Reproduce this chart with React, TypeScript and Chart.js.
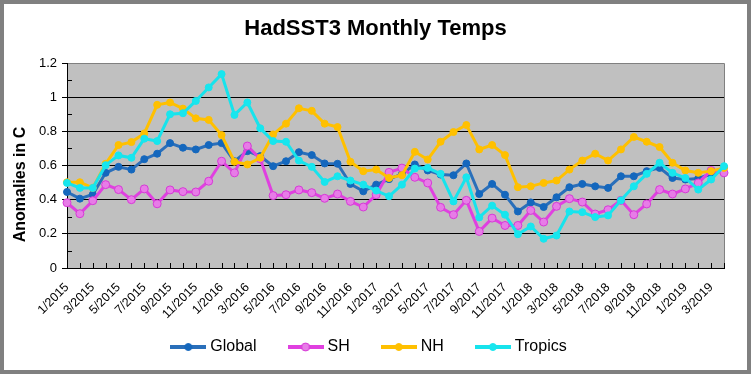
import React, { useEffect, useRef } from 'react';
import { Chart, registerables } from 'chart.js';

Chart.register(...registerables);

const FONT = "'Liberation Sans', Arial, sans-serif";

const months = [
  '1/2015', '2/2015', '3/2015', '4/2015', '5/2015', '6/2015', '7/2015', '8/2015', '9/2015', '10/2015', '11/2015', '12/2015',
  '1/2016', '2/2016', '3/2016', '4/2016', '5/2016', '6/2016', '7/2016', '8/2016', '9/2016', '10/2016', '11/2016', '12/2016',
  '1/2017', '2/2017', '3/2017', '4/2017', '5/2017', '6/2017', '7/2017', '8/2017', '9/2017', '10/2017', '11/2017', '12/2017',
  '1/2018', '2/2018', '3/2018', '4/2018', '5/2018', '6/2018', '7/2018', '8/2018', '9/2018', '10/2018', '11/2018', '12/2018',
  '1/2019', '2/2019', '3/2019', '4/2019',
];

const globalT = [
  0.445, 0.406, 0.43, 0.557, 0.592, 0.576, 0.637, 0.669, 0.731, 0.704, 0.694, 0.72,
  0.731, 0.625, 0.684, 0.655, 0.596, 0.625, 0.678, 0.661, 0.612, 0.61, 0.492, 0.449,
  0.488, 0.52, 0.55, 0.606, 0.571, 0.547, 0.543, 0.612, 0.433, 0.492, 0.429, 0.331,
  0.384, 0.357, 0.414, 0.473, 0.492, 0.478, 0.469, 0.537, 0.537, 0.567, 0.586, 0.527,
  0.518, 0.524, 0.55, 0.59,
];

const shT = [
  0.382, 0.318, 0.394, 0.488, 0.459, 0.4, 0.463, 0.376, 0.457, 0.447, 0.445, 0.508,
  0.625, 0.557, 0.714, 0.639, 0.424, 0.429, 0.457, 0.441, 0.408, 0.433, 0.39, 0.357,
  0.429, 0.56, 0.585, 0.531, 0.498, 0.355, 0.312, 0.396, 0.214, 0.292, 0.249, 0.249,
  0.337, 0.269, 0.361, 0.406, 0.386, 0.316, 0.341, 0.396, 0.312, 0.375, 0.459, 0.433,
  0.463, 0.498, 0.571, 0.557,
];

const nhT = [
  0.502, 0.502, 0.469, 0.61, 0.72, 0.737, 0.788, 0.955, 0.969, 0.933, 0.876, 0.867,
  0.778, 0.622, 0.606, 0.645, 0.782, 0.845, 0.935, 0.92, 0.845, 0.825, 0.622, 0.567,
  0.576, 0.527, 0.543, 0.68, 0.635, 0.739, 0.796, 0.837, 0.694, 0.72, 0.661, 0.473,
  0.478, 0.498, 0.512, 0.576, 0.629, 0.669, 0.629, 0.694, 0.767, 0.739, 0.708, 0.616,
  0.571, 0.557, 0.567, 0.586,
];

const tropicsT = [
  0.498, 0.469, 0.469, 0.602, 0.659, 0.645, 0.757, 0.743, 0.9, 0.906, 0.978, 1.057,
  1.135, 0.896, 0.969, 0.818, 0.743, 0.739, 0.629, 0.592, 0.504, 0.537, 0.512, 0.488,
  0.453, 0.42, 0.488, 0.582, 0.586, 0.551, 0.39, 0.531, 0.296, 0.365, 0.312, 0.198,
  0.243, 0.171, 0.19, 0.331, 0.327, 0.298, 0.308, 0.396, 0.478, 0.551, 0.616, 0.557,
  0.527, 0.459, 0.518, 0.596,
];

const seriesNames = ['Global', 'SH', 'NH', 'Tropics'];
const lineColors = ['#2A6FBA', '#E040E0', '#FFC000', '#17E3EC'];
const pointFills = ['#1467BD', '#E77CE7', '#FFC000', '#17E6EE'];
const pointBorders = ['#1467BD', '#D63AD6', '#FFC000', '#17E6EE'];
const pointRadii = [3.5, 4, 3.5, 3.5];

const chartTitle = 'HadSST3 Monthly Temps';
const yTitle = 'Anomalies in C';

function makeIcon(i: number): HTMLCanvasElement {
  const c = document.createElement('canvas');
  c.width = 36;
  c.height = 12;
  const g = c.getContext('2d')!;
  g.strokeStyle = lineColors[i];
  g.lineWidth = 4;
  g.beginPath();
  g.moveTo(0, 6);
  g.lineTo(36, 6);
  g.stroke();
  g.beginPath();
  g.arc(18, 6, pointRadii[i], 0, Math.PI * 2);
  g.fillStyle = pointFills[i];
  g.fill();
  g.lineWidth = 1;
  g.strokeStyle = pointBorders[i];
  g.stroke();
  return c;
}

const decor = {
  id: 'decor',
  afterLayout(chart: any) {
    // let the rotated month labels run below the (compact) x-axis box without being clipped
    if (chart.scales.x) chart.scales.x.bottom = chart.height;
  },
  beforeDraw(chart: any) {
    const { ctx, chartArea: a, width, height } = chart;
    ctx.save();
    ctx.fillStyle = '#ffffff';
    ctx.fillRect(0, 0, width, height);
    ctx.fillStyle = '#808080';
    ctx.fillRect(0, 0, width, 4);
    ctx.fillRect(0, 0, 4, height - 5);
    ctx.fillRect(width - 4, 0, 4, height - 5);
    ctx.fillRect(0, height - 9, width, 4);
    ctx.fillStyle = '#C0C0C0';
    ctx.fillRect(a.left, a.top, a.right - a.left, a.bottom - a.top);
    ctx.strokeStyle = '#808080';
    ctx.lineWidth = 1;
    ctx.beginPath();
    ctx.moveTo(a.left, a.top + 0.5);
    ctx.lineTo(a.right + 0.5, a.top + 0.5);
    ctx.lineTo(a.right + 0.5, a.bottom);
    ctx.stroke();
    ctx.restore();
  },
  beforeDatasetsDraw(chart: any) {
    const { ctx, chartArea: a, scales } = chart;
    ctx.save();
    ctx.strokeStyle = '#000';
    ctx.lineWidth = 1;
    ctx.beginPath();
    for (let k = 1; k < 12; k += 2) {
      const y = Math.round(scales.y.getPixelForValue(k / 10)) + 0.5;
      ctx.moveTo(a.left, y);
      ctx.lineTo(a.left + 5, y);
    }
    for (let i = 0; i < months.length; i++) {
      const x = Math.round(scales.x.getPixelForValue(i)) + 0.5;
      ctx.moveTo(x, a.bottom);
      ctx.lineTo(x, a.bottom - 5);
    }
    ctx.stroke();
    ctx.restore();
  },
  afterDraw(chart: any) {
    const { ctx, width, chartArea: a } = chart;
    ctx.save();
    ctx.fillStyle = '#000';
    ctx.font = `bold 22px ${FONT}`;
    ctx.textAlign = 'center';
    ctx.textBaseline = 'alphabetic';
    ctx.fillText(chartTitle, width / 2, 35);
    ctx.font = `bold 16px ${FONT}`;
    ctx.translate(25, (a.top + a.bottom) / 2 + 19);
    ctx.rotate(-Math.PI / 2);
    ctx.fillText(yTitle, 0, 0);
    ctx.restore();
  },
};

export default function App() {
  const ref = useRef<HTMLCanvasElement>(null);

  useEffect(() => {
    document.body.style.margin = '0';
    const canvas = ref.current!;
    const seriesData = [globalT, shT, nhT, tropicsT];
    const icons = seriesNames.map((_, i) => makeIcon(i));
    const chart = new Chart(canvas, {
      type: 'line',
      data: {
        labels: months,
        datasets: seriesData.map((d, i) => ({
          label: seriesNames[i],
          data: d,
          borderColor: lineColors[i],
          backgroundColor: pointFills[i],
          borderWidth: 3,
          pointRadius: pointRadii[i],
          pointBorderWidth: 1,
          pointBackgroundColor: pointFills[i],
          pointBorderColor: pointBorders[i],
          tension: 0,
          fill: false,
          clip: false as any,
          order: 3 - i,
        })),
      },
      options: {
        responsive: false,
        maintainAspectRatio: false,
        animation: false,
        devicePixelRatio: 1,
        layout: { padding: { left: 17, right: 27, top: 63, bottom: 14 } },
        plugins: {
          title: { display: false },
          tooltip: { enabled: false },
          legend: {
            display: true,
            position: 'bottom',
            labels: {
              usePointStyle: true,
              pointStyleWidth: 28,
              padding: 35,
              color: '#000',
              font: { size: 16, family: FONT },
              generateLabels: () =>
                seriesNames.map((n, i) => ({
                  text: n,
                  pointStyle: icons[i] as any,
                  fillStyle: pointFills[i],
                  strokeStyle: lineColors[i],
                  lineWidth: 0,
                  hidden: false,
                  datasetIndex: i,
                })),
            },
          },
        },
        scales: {
          x: {
            type: 'category',
            offset: false,
            grid: { display: false },
            border: { display: true, color: '#000', width: 1 },
            ticks: {
              autoSkip: false,
              minRotation: 45,
              maxRotation: 45,
              padding: 4,
              color: '#000',
              font: { size: 12.5, family: FONT },
              callback: (_v: any, idx: number) => (idx % 2 === 0 ? months[idx] : ''),
            },
            afterFit: (s: any) => {
              s.height = 36;
            },
          },
          y: {
            min: 0,
            max: 1.2,
            grid: {
              color: (c: any) => (c.tick && Math.abs(c.tick.value - 1.2) < 1e-6 ? '#808080' : '#000'),
              tickColor: '#000',
              tickLength: 5,
              lineWidth: 1,
            },
            border: { display: true, color: '#000', width: 1 },
            ticks: {
              stepSize: 0.2,
              padding: 5,
              color: '#000',
              font: { size: 13, family: FONT },
              callback: (v: any) => String(Math.round(Number(v) * 10) / 10),
            },
            afterFit: (s: any) => {
              s.width = 50;
            },
          },
        },
      },
      plugins: [decor],
    });
    return () => chart.destroy();
  }, []);

  return (
    <div style={{ position: 'absolute', left: 0, top: 0, width: 751, height: 379 }}>
      <canvas ref={ref} width={751} height={379} style={{ display: 'block', width: 751, height: 379 }} />
    </div>
  );
}
